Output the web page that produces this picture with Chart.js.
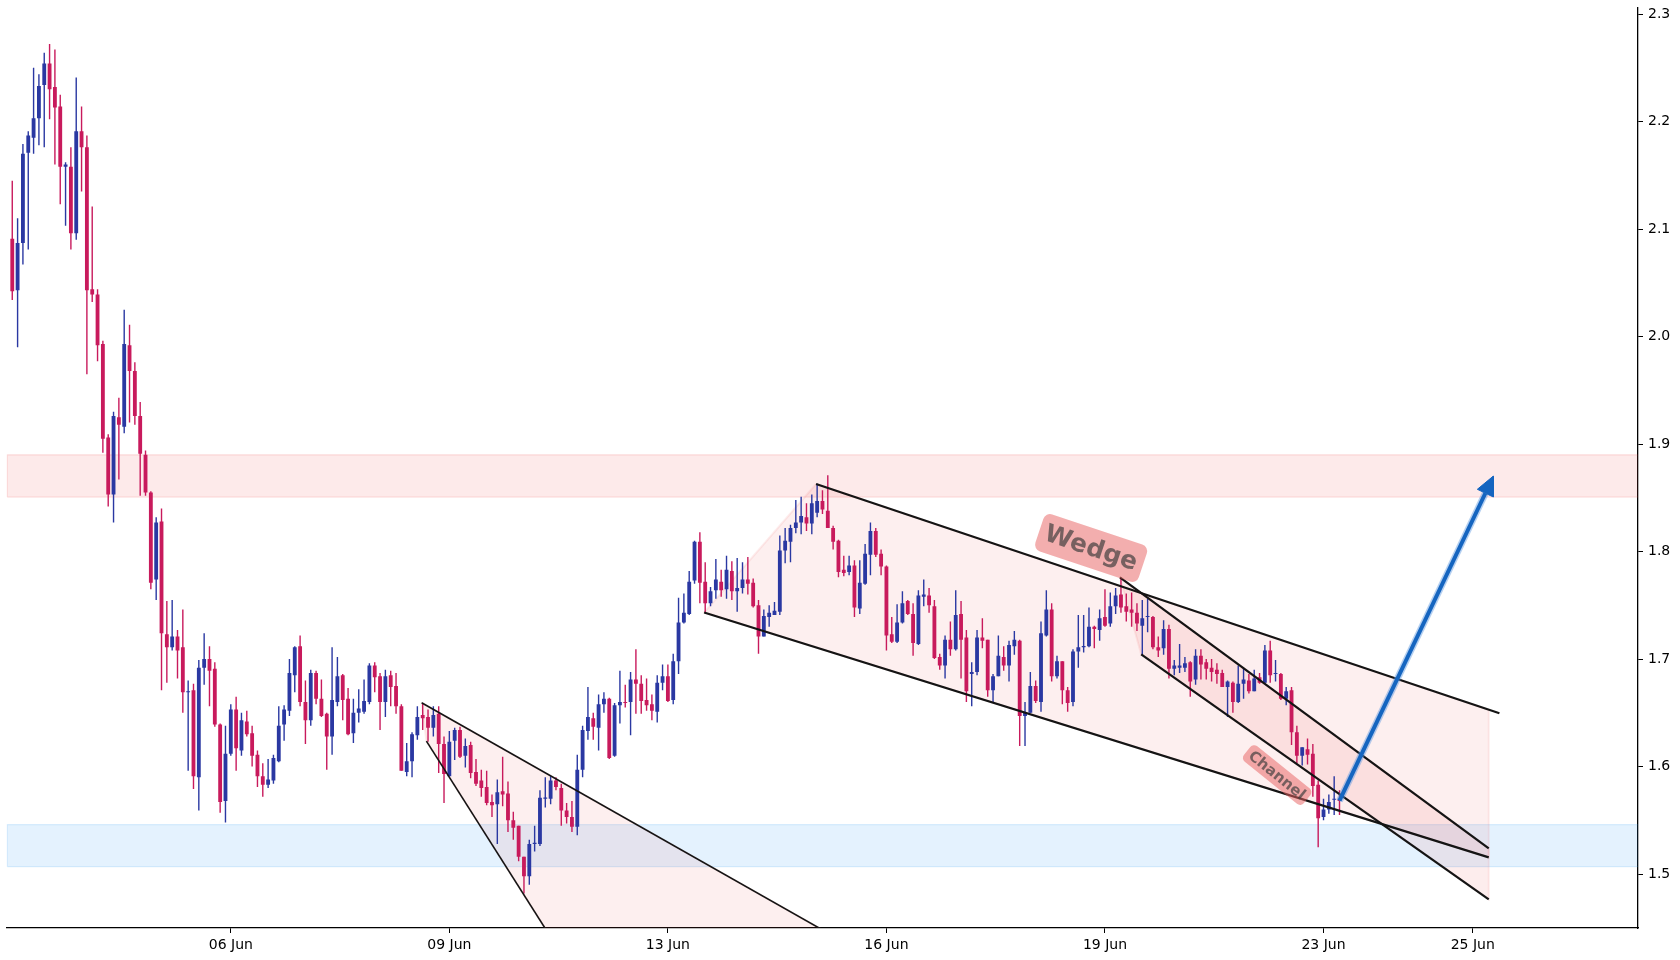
<!DOCTYPE html>
<html><head><meta charset="utf-8">
<script src="https://cdn.jsdelivr.net/npm/chart.js@4.4.1/dist/chart.umd.min.js"></script>
<style>html,body{margin:0;padding:0;background:#fff;}canvas{display:block;}</style>
</head><body>
<canvas id="c" width="1680" height="960"></canvas>
<script>
// ---- candle data (index-based x axis) ----
const opens = [2.091,2.043,2.087,2.171,2.185,2.203,2.234,2.254,2.232,2.214,
2.158,2.158,2.096,2.191,2.176,2.044,2.039,1.993,1.906,1.853,
1.925,1.916,1.992,1.968,1.926,1.890,1.855,1.774,1.828,1.723,
1.711,1.721,1.711,1.669,1.671,1.590,1.692,1.700,1.691,1.639,
1.568,1.612,1.653,1.615,1.642,1.631,1.611,1.591,1.583,1.587,
1.605,1.639,1.652,1.685,1.712,1.660,1.643,1.687,1.663,1.649,
1.628,1.660,1.685,1.663,1.631,1.650,1.651,1.660,1.694,1.684,
1.660,1.685,1.675,1.656,1.595,1.605,1.629,1.648,1.646,1.636,
1.649,1.621,1.591,1.624,1.634,1.610,1.620,1.595,1.587,1.581,
1.567,1.565,1.577,1.575,1.550,1.545,1.516,1.498,1.528,1.528,
1.570,1.570,1.587,1.580,1.559,1.553,1.544,1.597,1.633,1.645,
1.636,1.658,1.663,1.610,1.657,1.660,1.660,1.681,1.677,1.662,
1.658,1.651,1.678,1.684,1.662,1.698,1.734,1.742,1.773,1.809,
1.772,1.752,1.764,1.772,1.765,1.782,1.763,1.766,1.774,1.771,
1.750,1.721,1.739,1.741,1.744,1.801,1.809,1.822,1.827,1.832,
1.826,1.836,1.847,1.838,1.822,1.810,1.783,1.781,1.787,1.747,
1.770,1.797,1.819,1.798,1.786,1.723,1.716,1.734,1.754,1.742,
1.714,1.758,1.759,1.749,1.702,1.694,1.718,1.709,1.742,1.720,
1.686,1.688,1.720,1.718,1.671,1.684,1.702,1.694,1.712,1.717,
1.647,1.650,1.675,1.660,1.722,1.746,1.684,1.698,1.671,1.660,
1.707,1.711,1.712,1.730,1.727,1.739,1.733,1.749,1.760,1.749,
1.746,1.743,1.731,1.739,1.739,1.711,1.710,1.728,1.691,1.692,
1.692,1.697,1.681,1.703,1.697,1.692,1.690,1.687,1.674,1.678,
1.660,1.677,1.680,1.670,1.683,1.678,1.708,1.686,1.686,1.663,
1.671,1.632,1.610,1.616,1.612,1.583,1.553,1.560,1.569,1.570];
const highs = [2.145,2.110,2.179,2.191,2.250,2.244,2.264,2.272,2.267,2.225,
2.162,2.176,2.241,2.214,2.187,2.121,2.044,1.996,1.909,1.930,
1.943,2.025,2.011,1.976,1.939,1.894,1.856,1.832,1.840,1.754,
1.755,1.727,1.746,1.680,1.677,1.699,1.724,1.712,1.697,1.640,
1.638,1.658,1.665,1.650,1.652,1.638,1.615,1.603,1.607,1.611,
1.656,1.657,1.700,1.712,1.722,1.680,1.690,1.689,1.681,1.650,
1.711,1.702,1.686,1.673,1.663,1.672,1.681,1.696,1.697,1.687,
1.690,1.689,1.687,1.658,1.622,1.632,1.656,1.659,1.653,1.656,
1.656,1.628,1.633,1.636,1.637,1.626,1.623,1.607,1.597,1.596,
1.574,1.588,1.609,1.586,1.558,1.545,1.516,1.532,1.545,1.578,
1.590,1.591,1.590,1.584,1.566,1.568,1.611,1.638,1.674,1.650,
1.667,1.669,1.664,1.659,1.689,1.676,1.688,1.709,1.685,1.682,
1.667,1.685,1.695,1.695,1.705,1.757,1.761,1.782,1.810,1.818,
1.790,1.767,1.793,1.783,1.796,1.791,1.794,1.790,1.795,1.775,
1.755,1.746,1.750,1.753,1.815,1.822,1.825,1.848,1.851,1.845,
1.853,1.863,1.857,1.871,1.824,1.811,1.796,1.796,1.792,1.792,
1.807,1.827,1.822,1.802,1.787,1.739,1.751,1.763,1.755,1.752,
1.764,1.774,1.766,1.755,1.705,1.722,1.735,1.764,1.754,1.727,
1.697,1.727,1.738,1.718,1.686,1.722,1.712,1.717,1.726,1.718,
1.660,1.688,1.680,1.735,1.764,1.752,1.703,1.698,1.674,1.709,
1.741,1.741,1.748,1.731,1.746,1.765,1.762,1.766,1.775,1.761,
1.762,1.752,1.755,1.756,1.740,1.721,1.736,1.732,1.699,1.714,
1.702,1.698,1.709,1.709,1.700,1.700,1.696,1.690,1.680,1.679,
1.694,1.691,1.686,1.690,1.687,1.713,1.717,1.699,1.687,1.674,
1.674,1.638,1.618,1.626,1.621,1.587,1.570,1.574,1.591,1.578];
const lows = [2.034,1.990,2.067,2.081,2.170,2.178,2.176,2.202,2.160,2.123,
2.103,2.081,2.090,2.135,1.965,2.032,1.977,1.892,1.842,1.827,
1.867,1.910,1.920,1.918,1.852,1.852,1.765,1.755,1.671,1.678,
1.708,1.682,1.650,1.596,1.579,1.559,1.676,1.656,1.637,1.557,
1.548,1.610,1.596,1.610,1.628,1.600,1.581,1.572,1.580,1.584,
1.604,1.624,1.647,1.669,1.656,1.621,1.638,1.658,1.646,1.597,
1.611,1.656,1.643,1.629,1.622,1.641,1.649,1.658,1.669,1.634,
1.646,1.656,1.649,1.596,1.591,1.590,1.625,1.634,1.623,1.628,
1.594,1.566,1.591,1.606,1.608,1.599,1.589,1.582,1.572,1.564,
1.553,1.528,1.563,1.539,1.532,1.512,1.482,1.490,1.521,1.526,
1.562,1.565,1.578,1.545,1.547,1.539,1.536,1.590,1.625,1.625,
1.615,1.650,1.607,1.609,1.640,1.655,1.629,1.649,1.649,1.652,
1.643,1.641,1.671,1.660,1.658,1.686,1.733,1.741,1.770,1.752,
1.743,1.749,1.756,1.758,1.756,1.755,1.744,1.761,1.760,1.748,
1.705,1.721,1.730,1.741,1.741,1.789,1.790,1.817,1.816,1.819,
1.816,1.832,1.835,1.822,1.802,1.776,1.777,1.778,1.739,1.742,
1.769,1.778,1.795,1.778,1.708,1.715,1.715,1.733,1.741,1.703,
1.713,1.749,1.743,1.700,1.690,1.682,1.703,1.708,1.682,1.660,
1.656,1.685,1.710,1.665,1.660,1.684,1.689,1.679,1.704,1.619,
1.619,1.650,1.659,1.651,1.721,1.679,1.682,1.658,1.651,1.656,
1.692,1.706,1.711,1.710,1.717,1.730,1.730,1.742,1.743,1.735,
1.730,1.726,1.704,1.725,1.709,1.702,1.704,1.682,1.685,1.687,
1.688,1.665,1.676,1.681,1.681,1.679,1.677,1.674,1.646,1.650,
1.659,1.663,1.668,1.670,1.677,1.677,1.678,1.679,1.662,1.657,
1.620,1.603,1.601,1.602,1.572,1.525,1.550,1.556,1.555,1.555];
const closes = [2.042,2.087,2.170,2.187,2.203,2.233,2.254,2.230,2.213,2.158,
2.160,2.096,2.191,2.176,2.043,2.039,1.992,1.905,1.853,1.926,
1.918,1.993,1.968,1.926,1.891,1.855,1.771,1.827,1.724,1.711,
1.721,1.708,1.669,1.670,1.591,1.692,1.700,1.689,1.639,1.567,
1.612,1.653,1.617,1.643,1.630,1.610,1.591,1.583,1.588,1.608,
1.638,1.653,1.687,1.711,1.660,1.643,1.687,1.663,1.647,1.628,
1.662,1.684,1.662,1.630,1.650,1.654,1.661,1.694,1.683,1.660,
1.684,1.674,1.656,1.596,1.605,1.630,1.646,1.645,1.636,1.648,
1.621,1.593,1.623,1.634,1.609,1.619,1.594,1.584,1.580,1.566,
1.564,1.576,1.574,1.550,1.543,1.516,1.498,1.528,1.529,1.571,
1.571,1.587,1.581,1.559,1.553,1.544,1.597,1.634,1.646,1.637,
1.658,1.663,1.608,1.657,1.660,1.659,1.681,1.677,1.661,1.657,
1.652,1.678,1.684,1.661,1.698,1.734,1.743,1.772,1.809,1.771,
1.752,1.763,1.774,1.764,1.783,1.763,1.766,1.774,1.770,1.749,
1.721,1.740,1.743,1.745,1.801,1.810,1.822,1.827,1.833,1.826,
1.845,1.847,1.839,1.822,1.809,1.781,1.780,1.787,1.748,1.771,
1.798,1.819,1.797,1.786,1.722,1.716,1.734,1.752,1.742,1.715,
1.759,1.760,1.750,1.701,1.694,1.718,1.709,1.741,1.718,1.670,
1.688,1.720,1.717,1.671,1.684,1.703,1.694,1.713,1.718,1.647,
1.650,1.675,1.661,1.724,1.746,1.684,1.698,1.671,1.659,1.707,
1.711,1.712,1.730,1.728,1.738,1.731,1.749,1.759,1.748,1.744,
1.743,1.733,1.738,1.740,1.711,1.708,1.728,1.691,1.694,1.694,
1.696,1.679,1.703,1.695,1.691,1.688,1.686,1.674,1.679,1.660,
1.677,1.681,1.670,1.682,1.678,1.708,1.685,1.687,1.663,1.670,
1.632,1.610,1.618,1.611,1.582,1.552,1.560,1.567,1.570,1.568];

// ---- axis ticks ----
const tickIndex = [41, 82, 123, 164, 205, 246, 274];
const tickLabels = ['06 Jun', '09 Jun', '13 Jun', '16 Jun', '19 Jun', '23 Jun', '25 Jun'];
const priceTicks = [1.5, 1.6, 1.7, 1.8, 1.9, 2.0, 2.1, 2.2, 2.3];

// ---- zones (price bands) ----
const resistanceZone = [1.8507, 1.8900];
const supportZone = [1.5068, 1.5460];
const zoneSpan = [-0.94, 310];

// ---- pattern lines: [[x0, y0], [x1, y1]] in (candle index, price) ----
const triUpper = [[76.8, 1.6593], [169.1, 1.40]];
const triLower = [[77.7, 1.6237], [106.3, 1.40]];
const wedgeUpper = [[150.8, 1.8628], [279.0, 1.6495]];
const wedgeLower = [[129.8, 1.7433], [277.0, 1.5155]];
const channelUpper = [[207.8, 1.7760], [277.0, 1.5239]];
const channelLower = [[211.8, 1.7044], [277.0, 1.4765]];
const wedgeFillEnd = [277.0, 1.6528];

// ---- projection arrow ----
const arrowShaft = [[249.0, 1.5682], [276.36, 1.8542]];
const arrowHead = [[274.86, 1.8579], [277.86, 1.8702], [277.86, 1.8507]];

// ---- text labels ----
const labelText = ['Wedge', 'Channel'];
const labelPos = [[202.4, 1.8033], [237.3, 1.5921]];

// ================= build =================
const idx = opens.map((_, i) => i);
const UP = '#2a38a2', DOWN = '#c81a5c';
const candleColor = idx.map(i => closes[i] >= opens[i] ? UP : DOWN);
const pt = p => ({x: p[0], y: p[1]});

function lineDs(seg, width, order) {
  return {type: 'line', data: seg.map(pt), borderColor: '#141414', borderWidth: width,
    pointRadius: 0, fill: false, order: order, tension: 0};
}
function polyDs(points, bg, border, bw, order) {
  return {type: 'line', data: points.map(pt), backgroundColor: bg, borderColor: border,
    borderWidth: bw, pointRadius: 0, fill: 'shape', order: order, tension: 0};
}
const rect = (x0, x1, y0, y1) => [[x0, y0], [x1, y0], [x1, y1], [x0, y1], [x0, y0]];

const datasets = [
  polyDs(arrowHead.concat([arrowHead[0]]), '#1565c0', '#1565c0', 1, 0),
  {type: 'line', data: arrowShaft.map(pt), borderColor: '#1565c0', borderWidth: 4, pointRadius: 0, fill: false, order: 1},
  {type: 'line', data: arrowShaft.map(pt), borderColor: 'rgba(90,150,225,0.45)', borderWidth: 7, pointRadius: 0, fill: false, order: 2},
  lineDs(triUpper, 1.6, 3), lineDs(triLower, 1.6, 3),
  lineDs(wedgeUpper, 2.2, 3), lineDs(wedgeLower, 2.2, 3),
  lineDs(channelUpper, 2.2, 3), lineDs(channelLower, 2.2, 3),
  {type: 'bar', data: idx.map(i => ({x: i, y: [opens[i], closes[i]]})), backgroundColor: candleColor,
    grouped: false, minBarLength: 1.2, barPercentage: 0.9, categoryPercentage: 0.8, order: 4},
  {type: 'bar', data: idx.map(i => ({x: i, y: [lows[i], highs[i]]})), backgroundColor: candleColor,
    grouped: false, maxBarThickness: 1.4, order: 5},
  polyDs([channelUpper[0], channelUpper[1], channelLower[1], channelLower[0], channelUpper[0]],
    'rgba(235,80,80,0.10)', 'rgba(235,80,80,0.10)', 2, 6),
  polyDs([wedgeUpper[0], wedgeFillEnd, wedgeLower[1], wedgeLower[0], wedgeUpper[0]],
    'rgba(235,80,80,0.09)', 'rgba(235,80,80,0.10)', 2, 7),
  polyDs([triUpper[0], triUpper[1], triLower[1], triLower[0], triUpper[0]],
    'rgba(235,80,80,0.09)', 'rgba(235,80,80,0.10)', 2, 8),
  polyDs(rect(zoneSpan[0], zoneSpan[1], resistanceZone[0], resistanceZone[1]),
    'rgba(240,60,60,0.11)', 'rgba(240,60,60,0.14)', 1.2, 9),
  polyDs(rect(zoneSpan[0], zoneSpan[1], supportZone[0], supportZone[1]),
    'rgba(33,150,243,0.12)', 'rgba(33,150,243,0.14)', 1.2, 10)
];

const labelStyles = [
  {angle: 18.5, w: 109, h: 39, r: 7, font: 'bold 25px "DejaVu Sans"', bg: 'rgba(232,100,100,0.52)', color: 'rgba(60,60,60,0.68)'},
  {angle: 38.8, w: 77, h: 20, r: 5, font: 'bold 15px "DejaVu Sans"', bg: 'rgba(232,100,100,0.52)', color: 'rgba(60,60,60,0.68)'}
];
const labelPlugin = {
  id: 'patternLabels',
  afterDatasetsDraw(chart) {
    const {ctx} = chart;
    const xs = chart.scales.x, ys = chart.scales.y;
    labelText.forEach((t, k) => {
      const st = labelStyles[k];
      const px = xs.getPixelForValue(labelPos[k][0]);
      const py = ys.getPixelForValue(labelPos[k][1]);
      ctx.save();
      ctx.translate(px, py);
      ctx.rotate(st.angle * Math.PI / 180);
      ctx.beginPath();
      ctx.roundRect(-st.w / 2, -st.h / 2, st.w, st.h, st.r);
      ctx.fillStyle = st.bg;
      ctx.fill();
      ctx.font = st.font;
      ctx.fillStyle = st.color;
      ctx.textAlign = 'center';
      ctx.textBaseline = 'middle';
      ctx.fillText(t, 0, 1);
      ctx.restore();
    });
  }
};

const tickFont = {family: 'DejaVu Sans', size: 14};
new Chart(document.getElementById('c'), {
  type: 'bar',
  data: {datasets: datasets},
  plugins: [labelPlugin],
  options: {
    responsive: false, animation: false, devicePixelRatio: 1,
    layout: {padding: {left: 6.4, top: 8, right: 0, bottom: 0}},
    plugins: {legend: {display: false}, tooltip: {enabled: false}},
    scales: {
      x: {
        type: 'linear', min: -1.1, max: 305, offset: false,
        grid: {display: true, drawOnChartArea: false, drawTicks: true, tickLength: 5, color: '#000', offset: false},
        border: {display: true, color: '#000', width: 1.3},
        ticks: {autoSkip: false, maxRotation: 0, padding: 4, color: '#000', font: tickFont,
          callback: (v, i) => tickLabels[i]},
        afterBuildTicks: s => { s.ticks = tickIndex.map(v => ({value: v})); },
        afterFit: s => { s.height = 32; s.paddingLeft = 0; s.paddingRight = 0; }
      },
      y: {
        type: 'linear', position: 'right', min: 1.4498, max: 2.3056,
        grid: {display: true, drawOnChartArea: false, drawTicks: true, tickLength: 5, color: '#000'},
        border: {display: true, color: '#000', width: 1.3},
        ticks: {padding: 5, color: '#000', font: tickFont, callback: v => Number(v).toFixed(1)},
        afterBuildTicks: s => { s.ticks = priceTicks.map(v => ({value: v})); },
        afterFit: s => { s.width = 42; s.paddingTop = 0; s.paddingBottom = 0; }
      }
    }
  }
});
</script>
</body></html>
